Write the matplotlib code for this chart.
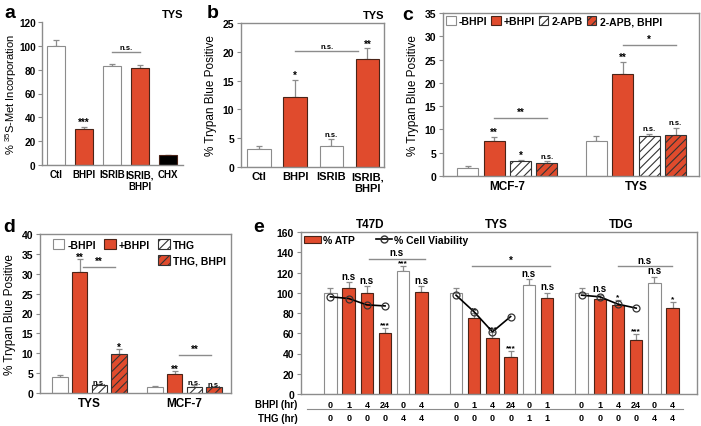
import matplotlib.pyplot as plt
from matplotlib.patches import Patch
from matplotlib.lines import Line2D

plt.rcParams['font.family'] = ['Liberation Sans', 'DejaVu Sans']
plt.rcParams['font.weight'] = 'bold'
plt.rcParams['mathtext.default'] = 'regular'
plt.rcParams['hatch.linewidth'] = 0.8

RED = '#E04B2D'
GRAY = '#8c8c8c'
DARK = '#4a2418'

# panel a
a_labels = ['Ctl', 'BHPI', 'ISRIB', 'ISRIB,\nBHPI', 'CHX']
a_vals = [100, 30, 83, 81, 8]
a_err = [5, 2, 1.5, 2.5, 0.6]
a_colors = ['white', RED, 'white', RED, 'black']
a_stars = ['', '***', '', '', '']
a_brackets = [(2, 3, 94.7, 'n.s.')]

# panel b
b_labels = ['Ctl', 'BHPI', 'ISRIB', 'ISRIB,\nBHPI']
b_vals = [3.1, 12.1, 3.6, 18.7]
b_err = [0.5, 3.0, 1.2, 1.9]
b_colors = ['white', RED, 'white', RED]
b_stars = ['', '*', 'n.s.', '**']
b_brackets = [(1, 2.75, 20.1, 'n.s.')]

# panel c
c_groups = ['MCF-7', 'TYS']
c_series = ['-BHPI', '+BHPI', '2-APB', '2-APB, BHPI']
c_vals = [[1.7, 7.6], [7.6, 21.8], [3.2, 8.5], [2.8, 8.7]]
c_err = [[0.4, 1.0], [0.8, 2.7], [0.2, 0.6], [0.4, 1.7]]
c_stars = [['', ''], ['**', '**'], ['*', 'n.s.'], ['n.s.', 'n.s.']]
c_brackets = [(0, 1, 3, 12.4, '**'), (1, 1, 3, 28.1, '*')]

# panel d
d_groups = ['TYS', 'MCF-7']
d_series = ['-BHPI', '+BHPI', 'THG', 'THG, BHPI']
d_vals = [[4.0, 1.4], [30.4, 4.9], [1.9, 1.4], [9.7, 1.4]]
d_err = [[0.6, 0.3], [3.3, 0.6], [0.3, 0.6], [1.3, 0.2]]
d_stars = [['', ''], ['**', '**'], ['n.s.', 'n.s.'], ['*', 'n.s.']]
d_brackets = [(0, 1.2, 2.8, 31.6, '**'), (1, 1.2, 2.85, 9.6, '**')]

# panel e
e_lines = ['T47D', 'TYS', 'TDG']
e_bhpi = [['0', '1', '4', '24', '0', '4'], ['0', '1', '4', '24', '0', '1'], ['0', '1', '4', '24', '0', '4']]
e_thg = [['0', '0', '0', '0', '4', '4'], ['0', '0', '0', '0', '1', '1'], ['0', '0', '0', '0', '4', '4']]
e_atp = [[100, 104.5, 100.2, 59.8, 121.2, 101.2],
         [100, 74.6, 55.8, 36.8, 108, 94.6],
         [100, 93.6, 87.7, 53.2, 110, 85.4]]
e_err = [[5, 6, 6, 5.2, 5.3, 5],
         [5, 5.4, 5, 5.2, 5.3, 5.4],
         [5, 4.4, 5.3, 5.6, 6, 5.6]]
e_viab = [[96, 94.3, 88, 87], [97.6, 81, 61.4, 76.5], [97.6, 96, 88.7, 84.8]]
e_stars = [['', 'n.s', 'n.s', '***', '***', 'n.s'],
           ['', '**', '***', '***', 'n.s', 'n.s'],
           ['', 'n.s', '*', '***', 'n.s', '*']]
e_brackets = [(0, 2.1, 5.2, 133.7, 'n.s'), (1, 0.85, 5.15, 126.5, '*'), (2, 1.98, 4.97, 126.5, 'n.s')]
e_white = [0, 4]

W, H = 701, 427
fig = plt.figure(figsize=(W / 100, H / 100), dpi=100)


def box(l, t, r, b):
    return [l / W, 1 - b / H, (r - l) / W, (b - t) / H]


def style(ax, full=True):
    for s in ax.spines.values():
        s.set_color(GRAY)
        s.set_linewidth(1.0)
    if not full:
        ax.spines['top'].set_visible(False)
        ax.spines['right'].set_visible(False)
    ax.tick_params(axis='y', length=3, color=GRAY, labelsize=7.5, pad=2)
    ax.tick_params(axis='x', length=0, labelsize=8, pad=3)


def bar(ax, x, h, err, color, width, hatch=None):
    edge = GRAY if color == 'white' else DARK
    if hatch:
        edge = '#333333'
    ax.bar(x, h, width, color=color, edgecolor=edge, hatch=hatch, lw=0.8, zorder=2)
    ax.errorbar(x, h, yerr=[[0], [err]], fmt='none', ecolor=GRAY, elinewidth=0.9,
                capsize=2, capthick=0.9, zorder=1)


def star(ax, x, y, s, size=7, ns=5.5, pad=1):
    if s:
        fs = ns if 'n' in s else size
        ax.annotate(s, (x, y), xytext=(0, pad if 'n' in s else pad - 1), textcoords='offset points',
                    ha='center', va='bottom', fontsize=fs)


def bracket(ax, x1, x2, y, s, fs=6):
    ax.plot([x1, x2], [y, y], color=GRAY, lw=1.0)
    ax.annotate(s, ((x1 + x2) / 2, y), xytext=(0, 1), textcoords='offset points',
                ha='center', va='bottom', fontsize=fs if 'n' in s else 7)


# ---- a
ax = fig.add_axes(box(42, 23, 183, 166))
style(ax, full=False)
ax.tick_params(axis='y', labelsize=7.2, pad=1.5)
for i in range(len(a_vals)):
    bar(ax, i, a_vals[i], a_err[i], a_colors[i], 0.64)
    star(ax, i, a_vals[i] + a_err[i], a_stars[i])
for x1, x2, y, s in a_brackets:
    bracket(ax, x1, x2, y, s, fs=5.5)
ax.set_xlim(-0.5, 4.55)
ax.set_ylim(0, 120)
ax.set_yticks(range(0, 121, 20))
ax.set_xticks(range(len(a_labels)))
ax.set_xticklabels(a_labels, fontsize=7)
ax.set_ylabel('% $^{35}$S-Met Incorporation', fontsize=8, fontweight='normal')
ax.yaxis.set_label_coords(-0.165, 0.5)
ax.text(1.0, 1.02, 'TYS', transform=ax.transAxes, ha='right', va='bottom', fontsize=8)

# ---- b
ax = fig.add_axes(box(241, 24, 384, 168))
style(ax)
for i in range(len(b_vals)):
    bar(ax, i, b_vals[i], b_err[i], b_colors[i], 0.65)
    star(ax, i, b_vals[i] + b_err[i], b_stars[i])
for x1, x2, y, s in b_brackets:
    bracket(ax, x1, x2, y, s, fs=5.5)
ax.set_xlim(-0.5, 3.46)
ax.set_ylim(0, 25)
ax.set_yticks(range(0, 26, 5))
ax.set_xticks(range(len(b_labels)))
ax.set_xticklabels(b_labels, fontsize=8)
ax.set_ylabel('% Trypan Blue Positive', fontsize=8.5, labelpad=4)
ax.text(1.0, 1.02, 'TYS', transform=ax.transAxes, ha='right', va='bottom', fontsize=8)

# ---- c
ax = fig.add_axes(box(443, 14, 699, 177))
style(ax)
c_colors = ['white', RED, 'white', RED]
c_hatch = [None, None, '////', '////']
for s in range(4):
    for g in range(2):
        x = g + (s - 1.5) * 0.205
        bar(ax, x, c_vals[s][g], c_err[s][g], c_colors[s], 0.163, c_hatch[s])
        star(ax, x, c_vals[s][g] + c_err[s][g], c_stars[s][g])
for g, s1, s2, y, s in c_brackets:
    bracket(ax, g + (s1 - 1.5) * 0.205, g + (s2 - 1.5) * 0.205, y, s)
ax.set_xlim(-0.5, 1.49)
ax.set_ylim(0, 35)
ax.set_yticks(range(0, 36, 5))
ax.set_xticks([0, 1])
ax.set_xticklabels(c_groups, fontsize=8.5)
ax.set_ylabel('% Trypan Blue Positive', fontsize=8.5, labelpad=4)
handles = [Patch(facecolor=c_colors[s], edgecolor='#333333' if c_hatch[s] else (GRAY if s == 0 else DARK),
                 hatch=c_hatch[s], lw=0.8) for s in range(4)]
ax.legend(handles, c_series, loc='upper left', ncol=4, frameon=False, fontsize=7.5,
          handlelength=0.9, handleheight=0.9, handletextpad=0.3, columnspacing=0.4,
          borderaxespad=0.1, borderpad=0.2)

# ---- d
ax = fig.add_axes(box(40, 235, 231, 394))
style(ax)
for s in range(4):
    for g in range(2):
        x = g + (s - 1.5) * 0.208
        bar(ax, x, d_vals[s][g], d_err[s][g], c_colors[s], 0.163, c_hatch[s])
        star(ax, x, d_vals[s][g] + d_err[s][g], d_stars[s][g], pad=-1)
for g, s1, s2, y, s in d_brackets:
    bracket(ax, g + (s1 - 1.5) * 0.208, g + (s2 - 1.5) * 0.208, y, s)
ax.set_xlim(-0.52, 1.49)
ax.set_ylim(0, 40)
ax.set_yticks(range(0, 41, 5))
ax.set_xticks([0, 1])
ax.set_xticklabels(d_groups, fontsize=8.5)
ax.set_ylabel('% Trypan Blue Positive', fontsize=8.5, labelpad=4)
blank = Patch(visible=False)
handles = [Patch(facecolor=c_colors[s], edgecolor='#333333' if c_hatch[s] else (GRAY if s == 0 else DARK),
                 hatch=c_hatch[s], lw=0.8) for s in range(4)]
ax.legend([handles[0], blank, handles[1], blank, handles[2], handles[3]],
          [d_series[0], '', d_series[1], '', d_series[2], d_series[3]],
          loc='upper left', bbox_to_anchor=(0.04, 1.0), ncol=3, frameon=False, fontsize=7.5,
          handlelength=1.1, handleheight=1.1, handletextpad=0.3, columnspacing=0.8,
          labelspacing=0.5, borderaxespad=0.1)

# ---- e
ax = fig.add_axes(box(301, 233, 697, 395))
style(ax)
step = 6.9
for g in range(3):
    for i in range(6):
        x = g * step + i
        col = 'white' if i in e_white else RED
        bar(ax, x, e_atp[g][i], e_err[g][i], col, 0.68)
        star(ax, x, e_atp[g][i] + e_err[g][i], e_stars[g][i], size=6, ns=7)
    xs = [g * step + i for i in range(4)]
    ax.plot(xs, e_viab[g], color='black', lw=1.2, marker='o', ms=5, mfc='none',
            mec='#333333', mew=0.9, zorder=3)
    ax.text(g * step + 2.2, 1.015, e_lines[g], transform=ax.get_xaxis_transform(),
            ha='center', va='bottom', fontsize=8.5)
    for i in range(6):
        ax.text(g * step + i, -0.062, e_bhpi[g][i], transform=ax.get_xaxis_transform(),
                ha='center', va='center', fontsize=6.5)
        ax.text(g * step + i, -0.148, e_thg[g][i], transform=ax.get_xaxis_transform(),
                ha='center', va='center', fontsize=6.5)
for g, x1, x2, y, s in e_brackets:
    bracket(ax, g * step + x1, g * step + x2, y, s, fs=7)
ax.text(-0.008, -0.062, 'BHPI (hr)', transform=ax.transAxes, ha='right', va='center', fontsize=7)
ax.text(-0.008, -0.148, 'THG (hr)', transform=ax.transAxes, ha='right', va='center', fontsize=7)
ax.plot([0.015, 0.965], [-0.095, -0.095], transform=ax.transAxes, color=GRAY, lw=0.8,
        clip_on=False)
ax.set_xlim(-1.62, 20.14)
ax.set_ylim(0, 160)
ax.set_yticks(range(0, 161, 20))
ax.set_xticks([])
ax.legend([Patch(facecolor=RED, edgecolor=DARK, lw=0.8),
           Line2D([], [], color='black', lw=1.2, marker='o', ms=5, mfc='none', mec='#333333')],
          ['% ATP', '% Cell Viability'], loc='upper left', ncol=2, frameon=False, fontsize=7.5,
          handlelength=1.6, handleheight=0.8, handletextpad=0.2, columnspacing=2.0,
          borderaxespad=0.1, borderpad=0.2)

# panel letters
for lab, x, y in [('a', 10, 13), ('b', 213, 14), ('c', 408, 15), ('d', 9, 228), ('e', 259, 228)]:
    fig.text(x / W, 1 - y / H, lab, fontsize=14, ha='center', va='center')

fig.savefig('out.png', dpi=100)
